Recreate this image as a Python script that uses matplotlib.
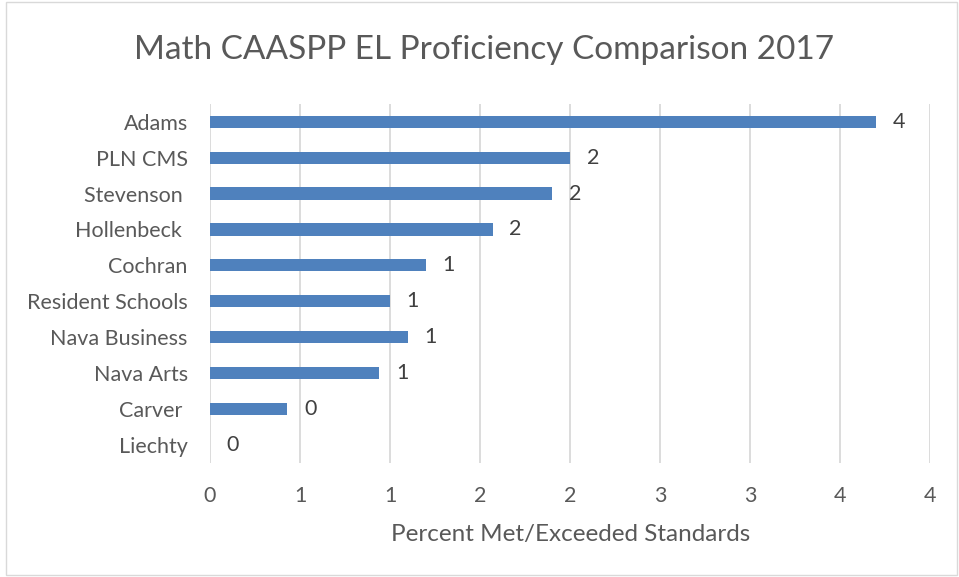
import matplotlib.pyplot as plt
from matplotlib.patches import Rectangle
from matplotlib.ticker import FuncFormatter

schools = ["Adams", "PLN CMS", "Stevenson ", "Hollenbeck ", "Cochran",
           "Resident Schools", "Nava Business", "Nava Arts", "Carver ", "Liechty"]
percent = [3.7, 2.0, 1.9, 1.57, 1.2, 1.0, 1.1, 0.94, 0.43, 0.0]
ticks = [0, 0.5, 1, 1.5, 2, 2.5, 3, 3.5, 4]

plt.rcParams['font.family'] = ['Lato', 'DejaVu Sans']
grey = "#595959"

fig = plt.figure(figsize=(9.59, 5.77), dpi=100)
ax = fig.add_axes([0.219, 0.198, 0.751, 0.622])

y = list(range(len(schools)))
ax.barh(y, percent, height=0.34, color="#4f81bd", zorder=3)
for yi, v in zip(y, percent):
    ax.annotate("%.0f" % v, (v, yi), xytext=(12, 0), textcoords="offset points",
                va="center", ha="left", fontsize=15.5, color="#404040")

ax.set_ylim(9.5, -0.5)
ax.set_yticks(y)
ax.set_yticklabels(schools, fontsize=15.5, color=grey)
ax.set_xlim(0, 4)
ax.set_xticks(ticks)
# excel style: half steps rounded to whole numbers
ax.xaxis.set_major_formatter(FuncFormatter(lambda v, p: "%d" % int(v + 0.5)))
ax.tick_params(axis="x", labelsize=15.5, labelcolor=grey, length=0, pad=16.5)
ax.tick_params(axis="y", length=0, pad=16)
ax.grid(axis="x", color="#d9d9d9", linewidth=1.3, zorder=0)
for s in ax.spines.values():
    s.set_visible(False)
ax.set_xlabel("Percent Met/Exceeded Standards", fontsize=17.5, color=grey, labelpad=13.5)

fig.text(0.505, 0.913, "Math CAASPP EL Proficiency Comparison 2017",
         ha="center", va="center", fontsize=24, color=grey)
fig.patches.append(Rectangle((0.006, 0.003), 0.992, 0.994, transform=fig.transFigure,
                             fill=False, edgecolor="#d9d9d9", linewidth=1))

fig.savefig("out.png", dpi=100)
